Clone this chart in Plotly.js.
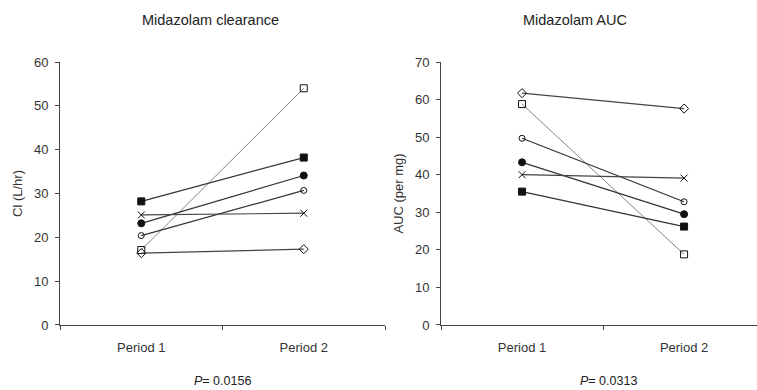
<!DOCTYPE html>
<html><head><meta charset="utf-8">
<script src="https://cdn.plot.ly/plotly-3.0.1.min.js"></script>
<style>body{margin:0;background:#fff}#c{width:757px;height:390px}</style>
</head><body><div id="c"></div>
<script>
const periods = ["Period 1", "Period 2"];
const subjects = ["open square", "filled square", "filled circle", "open circle", "cross", "open diamond"];
const clearance = {
  "open square": [17.1, 54.0],
  "filled square": [28.2, 38.2],
  "filled circle": [23.2, 34.1],
  "open circle": [20.4, 30.7],
  "cross": [25.1, 25.5],
  "open diamond": [16.4, 17.3]
};
const auc = {
  "open square": [58.8, 18.8],
  "filled square": [35.5, 26.2],
  "filled circle": [43.3, 29.5],
  "open circle": [49.7, 32.8],
  "cross": [40.0, 39.1],
  "open diamond": [61.7, 57.6]
};
const symbols = {
  "open square": ["square-open", 7],
  "filled square": ["square", 7],
  "filled circle": ["circle", 7],
  "open circle": ["circle-open", 6],
  "cross": ["x-thin-open", 7],
  "open diamond": ["diamond-open", 7]
};
const lineColors = {
  "open square": "#777", "filled square": "#333", "filled circle": "#333",
  "open circle": "#333", "cross": "#444", "open diamond": "#444"
};
const traces = [];
function add(data, xa, ya) {
  subjects.forEach(s => {
    traces.push({
      type: "scatter", mode: "lines+markers", x: periods, y: data[s],
      xaxis: xa, yaxis: ya, showlegend: false, hoverinfo: "skip",
      line: {color: lineColors[s], width: s === "open square" ? 0.9 : 1.2},
      marker: {symbol: symbols[s][0], size: symbols[s][1], color: "#111",
               line: {color: "#111", width: 1}}
    });
  });
}
add(clearance, "x", "y");
add(auc, "x2", "y2");
const tickf = {family: "Liberation Sans, Arial, sans-serif", size: 13, color: "#333"};
const xbase = {type: "category", showline: true, linecolor: "#444", linewidth: 1,
  ticks: "outside", ticklen: 4, tickcolor: "#444", tickson: "boundaries",
  ticklabelstandoff: 10,
  showgrid: false, zeroline: false, tickfont: tickf, fixedrange: true};
const ybase = {showline: true, linecolor: "#444", linewidth: 1, ticks: "outside",
  ticklen: 4, tickcolor: "#444", showgrid: false, zeroline: false, dtick: 10,
  ticklabelstandoff: 4,
  tickfont: tickf, domain: [0.1667, 0.841], fixedrange: true};
const layout = {
  width: 757, height: 390, margin: {l: 0, r: 0, t: 0, b: 0},
  paper_bgcolor: "#fff", plot_bgcolor: "#fff",
  xaxis: Object.assign({}, xbase, {domain: [0.0793, 0.5086], range: [-0.5, 1.5], anchor: "y"}),
  yaxis: Object.assign({}, ybase, {range: [0, 60], anchor: "x",
    title: {text: "Cl (L/hr)", font: tickf, standoff: 8}}),
  xaxis2: Object.assign({}, xbase, {domain: [0.5826, 1.0], range: [-0.5, 1.45], anchor: "y2"}),
  yaxis2: Object.assign({}, ybase, {range: [0, 70], anchor: "x2",
    title: {text: "AUC (per mg)", font: tickf, standoff: 8}}),
  annotations: [
    {text: "Midazolam clearance", x: 210, y: 20, showarrow: false,
     font: {family: "Liberation Sans, Arial, sans-serif", size: 14.5, color: "#222"}},
    {text: "Midazolam AUC", x: 575, y: 20, showarrow: false,
     font: {family: "Liberation Sans, Arial, sans-serif", size: 14.5, color: "#222"}},
    {text: "<i>P</i>= 0.0156", x: 222, y: 381, showarrow: false,
     font: {family: "Liberation Sans Narrow, Liberation Sans, sans-serif", size: 12.5, color: "#222"}},
    {text: "<i>P</i>= 0.0313", x: 608, y: 381, showarrow: false,
     font: {family: "Liberation Sans Narrow, Liberation Sans, sans-serif", size: 12.5, color: "#222"}}
  ]
};
layout.annotations.forEach(a => {
  a.xref = "paper"; a.yref = "paper";
  a.x = a.x / 757; a.y = 1 - a.y / 390;
  a.xanchor = "center"; a.yanchor = "middle";
});
Plotly.newPlot("c", traces, layout, {staticPlot: true});
</script></body></html>
